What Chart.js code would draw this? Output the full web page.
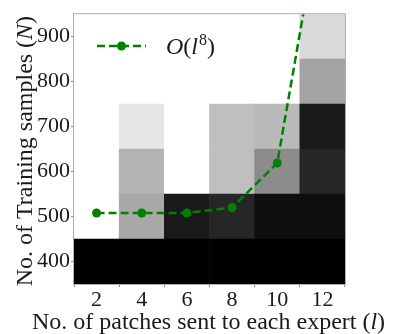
<!DOCTYPE html>
<html>
<head>
<meta charset="utf-8">
<script src="https://cdn.jsdelivr.net/npm/chart.js@4/dist/chart.umd.min.js"></script>
<style>
  html, body { margin: 0; padding: 0; background: #fff; }
  #wrap { width: 397px; height: 334px; }
</style>
</head>
<body>
<div id="wrap"><canvas id="myChart" width="397" height="334"></canvas></div>
<script>
// categories (l) and row levels (N)
const xLabels = ['2', '4', '6', '8', '10', '12'];
const yLevels = [400, 500, 600, 700, 800, 900];
const yTicks = [400, 500, 600, 700, 800, 900];

// cell brightness, 0 = black, 1 = white (one list per row)
const row400 = [0, 0, 0, 0, 0, 0];
const row500 = [1, 0.66, 0.10, 0.15, 0.06, 0.06];
const row600 = [1, 0.70, 1, 0.75, 0.55, 0.15];
const row700 = [1, 0.90, 1, 0.75, 0.73, 0.10];
const row800 = [1, 1, 1, 1, 1, 0.64];
const row900 = [1, 1, 1, 1, 1, 0.85];
const rows = [row400, row500, row600, row700, row800, row900];

// O(l^8) curve
const fitValues = [508, 508, 508, 520, 619, 1195];

const serif = "'Liberation Serif', 'DejaVu Serif', serif";
const green = '#008000';

function shade(v) {
  const g = Math.round(v * 255);
  return 'rgb(' + g + ',' + g + ',' + g + ')';
}

const datasets = [];
for (let i = 0; i < yLevels.length; i++) {
  const y = yLevels[i];
  datasets.push({
    type: 'bar',
    data: xLabels.map(() => [y - 50, y + 50]),
    backgroundColor: rows[i].map(shade),
    borderWidth: 0,
    barPercentage: 1,
    categoryPercentage: 1,
    grouped: false,
    order: 2
  });
}
datasets.push({
  type: 'line',
  data: fitValues,
  borderColor: green,
  backgroundColor: green,
  borderWidth: 2.5,
  borderDash: [8, 4],
  pointRadius: 4.5,
  pointBackgroundColor: green,
  pointBorderWidth: 0,
  clip: 0,
  order: 0
});

// draw a line of mixed-style text pieces
function drawRuns(ctx, runs, x, y) {
  let total = 0;
  runs.forEach(r => { ctx.font = r.f; total += ctx.measureText(r.t).width; });
  let cx = x - total / 2;
  runs.forEach(r => {
    ctx.font = r.f;
    ctx.fillText(r.t, cx, y + (r.dy || 0));
    cx += ctx.measureText(r.t).width;
  });
}

const extras = {
  id: 'extras',
  afterDraw(chart) {
    const ctx = chart.ctx;
    const a = chart.chartArea;
    ctx.save();
    // frame
    ctx.strokeStyle = '#b0b0b0';
    ctx.lineWidth = 1;
    ctx.strokeRect(a.left - 0.5, a.top - 0.5, a.right - a.left + 1, a.bottom - a.top + 1);

    ctx.fillStyle = '#1a1a1a';
    ctx.textBaseline = 'alphabetic';
    const up = '24px ' + serif;
    const it = 'italic 24px ' + serif;
    // x title
    drawRuns(ctx, [
      { t: 'No. of patches sent to each expert (', f: up },
      { t: 'l', f: it },
      { t: ')', f: up }
    ], (a.left + a.right) / 2 - 1, 329);
    // y title
    ctx.save();
    ctx.translate(32, (a.top + a.bottom) / 2 + 2);
    ctx.rotate(-Math.PI / 2);
    drawRuns(ctx, [
      { t: 'No. of Training samples (', f: up },
      { t: 'N', f: it },
      { t: ')', f: up }
    ], 0, 0);
    ctx.restore();

    // legend
    const ly = 46;
    ctx.strokeStyle = green;
    ctx.lineWidth = 2.5;
    ctx.setLineDash([8, 4]);
    ctx.beginPath();
    ctx.moveTo(97, ly);
    ctx.lineTo(146, ly);
    ctx.stroke();
    ctx.setLineDash([]);
    ctx.fillStyle = green;
    ctx.beginPath();
    ctx.arc(121.5, ly, 4.5, 0, Math.PI * 2);
    ctx.fill();
    ctx.fillStyle = '#1a1a1a';
    ctx.textAlign = 'left';
    let tx = 166;
    const lf = [
      { t: 'O', f: 'italic 24px ' + serif, dy: 0 },
      { t: '(', f: '24px ' + serif, dy: 0 },
      { t: 'l', f: 'italic 24px ' + serif, dy: 0 },
      { t: '8', f: '16px ' + serif, dy: -9 },
      { t: ')', f: '24px ' + serif, dy: 0 }
    ];
    lf.forEach(r => {
      ctx.font = r.f;
      ctx.fillText(r.t, tx, ly + 8 + r.dy);
      tx += ctx.measureText(r.t).width + (r.t === 'l' ? 1 : 0);
    });
    ctx.restore();
  }
};

const ctx = document.getElementById('myChart').getContext('2d');
const myChart = new Chart(ctx, {
  type: 'bar',
  data: { labels: xLabels, datasets: datasets },
  options: {
    responsive: false,
    animation: false,
    devicePixelRatio: 1,
    layout: { padding: { top: 12, right: 52, left: 0, bottom: 0 } },
    plugins: { legend: { display: false }, tooltip: { enabled: false } },
    scales: {
      x: {
        type: 'category',
        offset: true,
        grid: { drawOnChartArea: false, tickLength: 3, color: '#888' },
        border: { display: false },
        ticks: { font: { family: serif, size: 22 }, color: '#1a1a1a', padding: 0 },
        afterFit: s => { s.height = 50; }
      },
      y: {
        type: 'linear',
        min: 350,
        max: 950,
        afterBuildTicks: s => { s.ticks = yTicks.map(v => ({ value: v })); },
        grid: { drawOnChartArea: false, tickLength: 3, color: '#888' },
        border: { display: false },
        ticks: { font: { family: serif, size: 22 }, color: '#1a1a1a', padding: 1 },
        afterFit: s => { s.width = 74; }
      }
    }
  },
  plugins: [extras]
});
</script>
</body>
</html>
